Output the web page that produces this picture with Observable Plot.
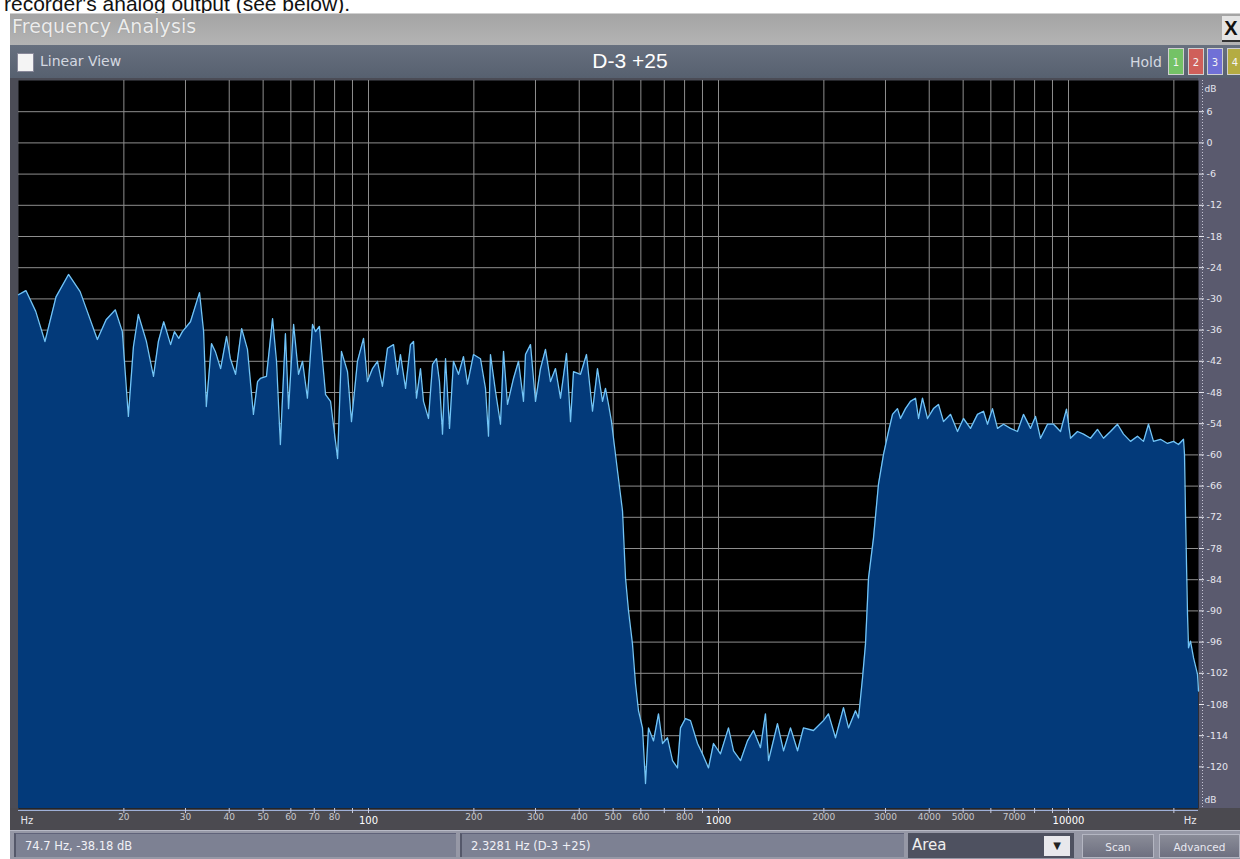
<!DOCTYPE html>
<html><head><meta charset="utf-8">
<script src="https://cdn.jsdelivr.net/npm/d3@7"></script>
<script src="https://cdn.jsdelivr.net/npm/@observablehq/plot@0.6"></script>
<style>
body{margin:0;width:1240px;height:859px;overflow:hidden;background:#fff;position:relative;font-family:"DejaVu Sans",Verdana,sans-serif}
.a{position:absolute}
#pagetext{left:4px;top:-7px;font:21px/21px "Liberation Sans",Arial,sans-serif;color:#111;white-space:nowrap}
#win{left:10px;top:13px;width:1230px;height:846px;background:#8d909e}
#titlebar{left:10px;top:13px;width:1230px;height:31px;background:linear-gradient(#a4a4a4,#b4b4b4);border-top:1px solid #d0d0d0}
#title{left:12px;top:15px;font-size:19px;color:#ececec;text-shadow:0 0 1px #888;letter-spacing:0.1px}
#close{left:1222px;top:16px;width:18px;height:24px;background:#e4e4e4;color:#111;font:bold 20px/24px "Liberation Sans",Arial;text-align:center;border-bottom:2px solid #333}
#toolbar{left:10px;top:45px;width:1230px;height:34px;background:linear-gradient(#67707f,#56606f)}
#chk{left:17px;top:53px;width:15px;height:17px;background:#f4f4f4;border:1px solid #889}
#lin{left:40px;top:53px;font-size:14px;color:#d4d8e0}
#name{left:530px;width:200px;text-align:center;top:49px;font:21px "Liberation Sans",Arial,sans-serif;color:#fff}
#hold{left:1130px;top:54px;font-size:14px;color:#d4d8e0}
.hb{top:48px;width:16px;height:27px;font-size:10px;line-height:27px;text-align:center;color:#f4f4f4;box-sizing:border-box;border:1px solid #cfcfcf}
#status{left:10px;top:829px;width:1230px;height:30px;background:#9698a6;border-top:2px solid #b8bac6}
.sb{top:833px;height:24px;background:#7d8193;border-left:2px solid #55586a;border-top:1px solid #60637a;color:#f0f0f6;font-size:11.5px;line-height:24px;padding-left:9px;box-sizing:border-box}
#area{left:908px;top:833px;width:166px;height:25px;background:#4e5160;color:#eee;font-size:15px;line-height:25px;padding-left:4px;box-sizing:border-box}
#dd{left:1044px;top:836px;width:26px;height:20px;background:#e8e8ec;color:#222;font-size:10px;line-height:20px;text-align:center}
.btn{top:834px;height:24px;background:linear-gradient(#8a8c98,#6e7080);border:1px solid #b4b6c2;color:#e8e8f0;font-size:10.5px;line-height:24px;text-align:center;box-sizing:border-box}
#chart{left:10px;top:78px}
</style></head><body>
<div id="pagetext" class="a">recorder's analog output (see below).</div>
<div id="win" class="a"></div>
<div id="titlebar" class="a"></div>
<div id="title" class="a">Frequency Analysis</div>
<div id="close" class="a">X</div>
<div id="toolbar" class="a"></div>
<div id="chk" class="a"></div>
<div id="lin" class="a">Linear View</div>
<div id="name" class="a">D-3 +25</div>
<div id="hold" class="a">Hold</div>
<div class="a hb" style="left:1168px;background:#74c266">1</div>
<div class="a hb" style="left:1188px;background:#cf5f5a">2</div>
<div class="a hb" style="left:1207px;background:#7070d6">3</div>
<div class="a hb" style="left:1227px;background:#b4ac42">4</div>
<div id="status" class="a"></div>
<div class="a sb" style="left:14px;width:442px">74.7 Hz, -38.18 dB</div>
<div class="a sb" style="left:460px;width:444px">2.3281 Hz (D-3 +25)</div>
<div id="area" class="a">Area</div>
<div id="dd" class="a">&#9660;</div>
<div class="a btn" style="left:1082px;width:72px">Scan</div>
<div class="a btn" style="left:1159px;width:81px">Advanced</div>
<div id="chart" class="a"></div>
<script>
// Spectrum: frequency (Hz) and level (dB)
const freqHz = [10.0,10.5,11.2,11.9,12.8,13.9,15.0,16.8,17.8,18.9,19.8,20.6,21.3,22.0,23.2,24.3,25.1,26.0,27.2,27.9,
28.7,29.4,31.0,32.9,33.8,34.4,35.6,36.5,37.8,39.3,40.3,41.7,43.4,45.1,46.9,48.2,49.1,51.1,53.2,54.6,
56.0,57.9,59.1,61.1,63.1,64.8,66.9,69.2,70.6,72.4,75.4,77.9,81.6,83.7,87.1,89.4,93.0,96.8,99.3,102.7,
106.1,109.6,113.3,117.9,121.0,123.4,127.6,131.8,134.5,137.1,140.8,143.6,148.4,152.4,156.4,159.5,162.7,166.0,170.4,174.9,
180.8,186.8,191.8,199.5,208.9,215.9,220.2,223.1,230.6,238.3,243.1,249.5,259.6,268.3,277.2,280.9,290.3,300.0,310.0,320.4,
331.1,342.2,353.6,367.9,377.7,385.2,403.4,419.6,436.5,451.1,466.2,475.5,485.0,494.6,501.2,514.6,531.8,542.4,553.2,567.9,
579.2,590.8,606.5,618.6,631.0,652.1,673.9,691.8,715.0,738.9,763.6,778.8,804.9,831.8,871.0,900.1,936.3,967.7,1013,1068,
1104,1156,1210,1259,1318,1362,1390,1474,1534,1606,1682,1749,1868,1995,2062,2159,2276,2352,2463,2512,
2579,2630,2683,2772,2865,2961,3060,3142,3247,3311,3422,3536,3655,3728,3827,3955,4114,4252,4394,4601,
4818,5012,5248,5495,5717,5869,6065,6268,6521,6828,7150,7438,7788,8049,8318,8710,9060,9487,9870,10132,
10610,11037,11557,12102,12589,13183,13804,14360,15036,15745,16379,16926,17493,18318,19181,19953,20620,21310,21450,21592,
21878,22023,22314,22759,23365,23519];
const levelDb = [-29.2,-28.4,-32.4,-38.2,-29.6,-25.3,-28.6,-37.8,-34.0,-32.1,-36.3,-52.6,-39.2,-33.0,-38.2,-44.9,-38.2,-34.4,-38.8,-36.3,
-37.6,-36.3,-34.4,-28.8,-36.3,-50.7,-38.6,-40.1,-43.4,-37.2,-41.5,-44.5,-35.7,-39.7,-52.2,-45.9,-45.3,-44.9,-33.8,-42.0,
-58.0,-36.7,-51.1,-34.9,-44.5,-42.0,-49.1,-34.9,-36.3,-35.3,-48.4,-49.7,-60.7,-40.1,-44.0,-53.6,-42.0,-37.6,-45.9,-43.4,
-42.0,-46.8,-39.5,-38.8,-44.5,-40.7,-47.2,-38.8,-38.2,-49.1,-43.4,-49.7,-53.0,-42.6,-41.5,-45.9,-56.0,-41.5,-54.9,-42.0,
-44.5,-41.1,-46.4,-40.7,-41.5,-47.2,-56.4,-40.7,-47.8,-54.1,-40.1,-50.3,-45.3,-42.0,-49.7,-40.7,-38.8,-49.7,-43.4,-39.7,
-45.9,-43.4,-49.1,-40.5,-53.6,-44.0,-44.5,-40.7,-51.6,-43.4,-49.7,-47.2,-50.3,-53.6,-56.8,-63.1,-70.8,-83.7,-90.0,-96.4,
-104.0,-109.2,-112.5,-123.2,-112.5,-115.0,-109.8,-115.5,-114.4,-118.8,-120.2,-112.5,-110.7,-111.1,-115.5,-117.5,-120.2,-115.5,-117.5,-112.5,
-116.9,-118.8,-115.0,-113.0,-116.3,-109.8,-118.8,-111.7,-116.9,-112.5,-116.9,-112.5,-113.0,-111.1,-109.8,-114.4,-108.6,-112.5,-109.2,-110.6,
-102.9,-96.4,-83.7,-76.0,-65.6,-59.9,-55.5,-52.2,-51.1,-53.0,-51.1,-49.7,-49.1,-53.0,-49.1,-53.0,-51.1,-50.3,-53.6,-52.2,
-55.5,-53.0,-54.9,-52.2,-51.6,-54.1,-51.1,-54.9,-54.1,-54.9,-55.5,-52.2,-54.9,-52.6,-56.8,-54.1,-54.1,-55.5,-51.2,-56.8,
-55.5,-56.0,-56.8,-55.1,-56.8,-55.5,-54.1,-56.0,-57.4,-56.4,-57.4,-54.1,-57.4,-57.0,-57.8,-57.4,-58.0,-57.0,-59.9,-71.4,
-90.6,-97.1,-95.8,-99.0,-102.2,-105.4];

const dbTicks = [6,0,-6,-12,-18,-24,-30,-36,-42,-48,-54,-60,-66,-72,-78,-84,-90,-96,-102,-108,-114,-120];
const freqGrid = [20,30,40,50,60,70,80,90,100,200,300,400,500,600,700,800,900,1000,
  2000,3000,4000,5000,6000,7000,8000,9000,10000,20000];
const freqLabels = [20,30,40,50,60,70,80,200,300,400,500,600,800,2000,3000,4000,5000,7000];
const decadeLabels = [100,1000,10000];
const xDomain = [10, 23519];
const yDomain = [-128, 12];

const data = freqHz.map((f, i) => ({f, db: levelDb[i]}));

const chart = Plot.plot({
  width: 1230, height: 752,
  marginLeft: 8, marginRight: 42, marginTop: 2, marginBottom: 22,
  style: {
    background: "linear-gradient(to bottom, rgba(0,0,0,0) 730px, #4b4a50 730px), linear-gradient(to right, #4b4c56 1188px, #5a5a6e 1188px)",
    color: "#dcdce4", fontFamily: "DejaVu Sans, sans-serif", fontSize: "9px", overflow: "visible"
  },
  x: {type: "log", domain: xDomain, axis: null},
  y: {domain: yDomain, axis: null},
  marks: [
    Plot.frame({fill: "#000", stroke: null}),
    Plot.ruleX(freqGrid, {stroke: "#8e8e8e", strokeWidth: 1}),
    Plot.ruleY(dbTicks, {stroke: "#8e8e8e", strokeWidth: 1}),
    Plot.areaY(data, {x: "f", y1: yDomain[0], y2: "db", fill: "#033a7a", curve: "linear"}),
    Plot.line(data, {x: "f", y: "db", stroke: "#72c4f6", strokeWidth: 1.3, curve: "linear"}),
    Plot.ruleY([yDomain[0]], {stroke: "#9fb0d8", strokeWidth: 1, dy: 2}),
    Plot.ruleX([xDomain[1]], {stroke: "#c4c4d4", strokeDasharray: "1 2", dx: 4}),
    Plot.axisY(dbTicks, {anchor: "right", label: null, tickSize: 5, tickPadding: 3, stroke: "#e6e6ee",
      fill: "#e6e6ee", tickFormat: d => String(d), fontSize: 9.5}),
    Plot.axisX(freqGrid, {anchor: "bottom", label: null, tickSize: 5, tickFormat: () => "", stroke: "#c8cce0"}),
    Plot.text(freqLabels, {x: d => d, text: d => String(d), frameAnchor: "bottom", dy: 11,
      fill: "#c8c8cc", fontSize: 9}),
    Plot.text(decadeLabels, {x: d => d, text: d => String(d), frameAnchor: "bottom", dy: 15,
      fill: "#ffffff", fontSize: 10}),
    Plot.text(["Hz"], {frameAnchor: "bottom-left", textAnchor: "start", dx: 2, dy: 15, fill: "#e6e6ee", fontSize: 10}),
    Plot.text(["Hz"], {frameAnchor: "bottom-right", textAnchor: "end", dx: -2, dy: 15, fill: "#e6e6ee", fontSize: 10}),
    Plot.text(["dB"], {frameAnchor: "top-right", textAnchor: "start", dx: 6, dy: 5, fill: "#e6e6ee", fontSize: 9}),
    Plot.text(["dB"], {frameAnchor: "bottom-right", textAnchor: "start", dx: 6, dy: -6, fill: "#e6e6ee", fontSize: 9})
  ]
});
document.getElementById("chart").appendChild(chart);
</script>
</body></html>
